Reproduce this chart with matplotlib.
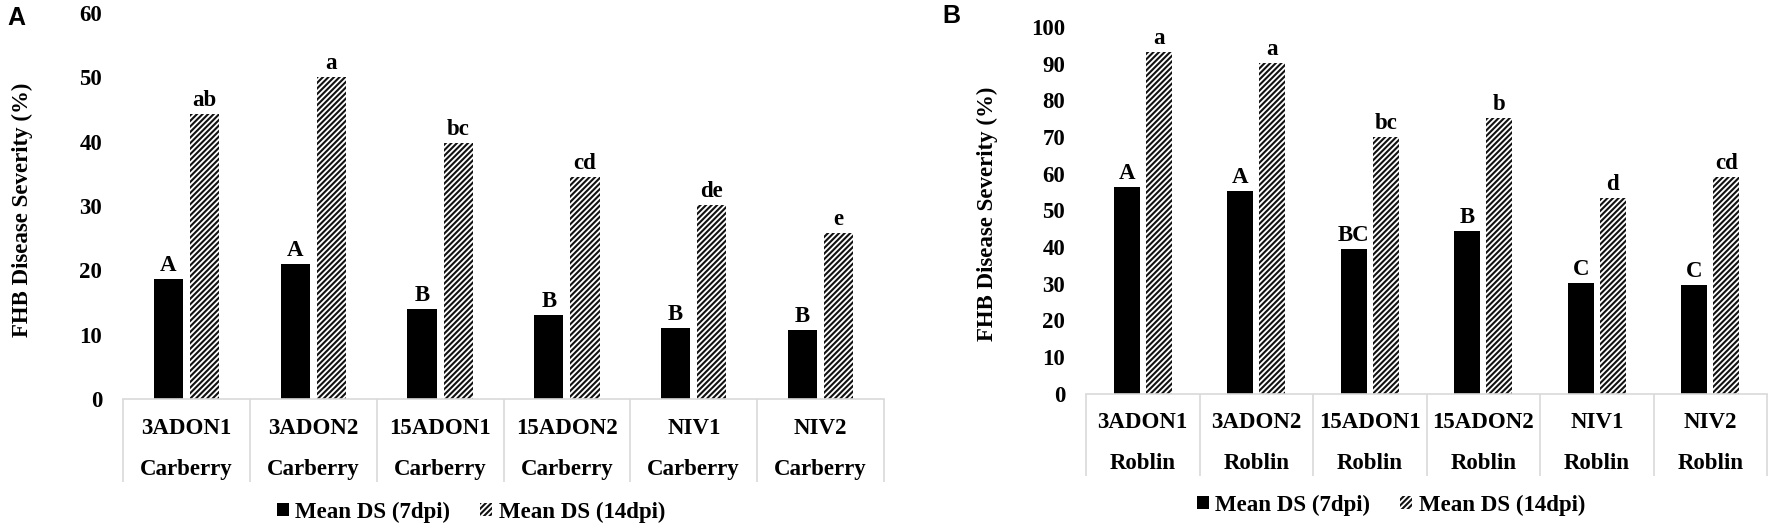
import matplotlib
matplotlib.use('Agg')
import matplotlib.pyplot as plt
import matplotlib.patches as mpatches
import numpy as np

plt.rcParams['font.family'] = 'Liberation Serif'
plt.rcParams['font.weight'] = 'bold'
plt.rcParams['hatch.linewidth'] = 1.5

# data
isolates = ['3ADON1', '3ADON2', '15ADON1', '15ADON2', 'NIV1', 'NIV2']
cultivar_a = 'Carberry'
cultivar_b = 'Roblin'

ds7_a = [18.7, 21.0, 14.0, 13.0, 11.1, 10.7]
ds14_a = [44.3, 50.1, 39.8, 34.5, 30.2, 25.8]
let7_a = ['A', 'A', 'B', 'B', 'B', 'B']
let14_a = ['ab', 'a', 'bc', 'cd', 'de', 'e']

ds7_b = [56.3, 55.3, 39.4, 44.3, 30.1, 29.5]
ds14_b = [93.2, 90.2, 70.0, 75.2, 53.3, 59.1]
let7_b = ['A', 'A', 'BC', 'B', 'C', 'C']
let14_b = ['a', 'a', 'bc', 'b', 'd', 'cd']

series_names = ['Mean DS (7dpi)', 'Mean DS (14dpi)']

W, H = 1772, 527
fig = plt.figure(figsize=(W / 100, H / 100), dpi=100)

FS = 16.5
GRID = '#d9d9d9'
HATCH = '//////'


def draw_panel(rect, ds7, ds14, let7, let14, cultivar, ymax, ystep, label_x, table_px):
    ax = fig.add_axes(rect)
    x = np.arange(len(isolates))
    w = 0.23
    off = 0.142
    ax.bar(x - off, ds7, w, color='black', linewidth=0)
    ax.bar(x + off, ds14, w, color='white', edgecolor='#111111', linewidth=0, hatch=HATCH)

    # significance letters
    for xi, v, t in zip(x, ds7, let7):
        ax.annotate(t, (xi - off, v), xytext=(0, 8), textcoords='offset pixels',
                    ha='center', va='baseline', fontsize=FS, fontweight='bold')
    for xi, v, t in zip(x, ds14, let14):
        ax.annotate(t, (xi + off, v), xytext=(0, 8), textcoords='offset pixels',
                    ha='center', va='baseline', fontsize=FS, fontweight='bold')

    ax.set_xlim(-0.5, len(isolates) - 0.5)
    ax.set_ylim(0, ymax)
    ax.set_yticks(np.arange(0, ymax + 1, ystep))
    ax.tick_params(axis='y', length=0, pad=15, labelsize=FS)
    for lab in ax.get_yticklabels():
        lab.set_fontweight('bold')
    ax.set_xticks([])

    for s in ['top', 'right', 'left']:
        ax.spines[s].set_visible(False)
    ax.spines['bottom'].set_color(GRID)
    ax.spines['bottom'].set_linewidth(1.2)

    # category table below the axis
    ax_h_px = rect[3] * H
    ax.vlines(np.arange(len(isolates) + 1) - 0.5, -table_px / ax_h_px, 0,
              transform=ax.get_xaxis_transform(), colors=GRID, linewidth=1.2,
              clip_on=False)
    for xi, name in zip(x, isolates):
        ax.annotate(name, (xi, 0), xycoords=('data', 'axes fraction'),
                    xytext=(0, -29), textcoords='offset pixels',
                    ha='center', va='center', fontsize=FS, fontweight='bold',
                    annotation_clip=False)
        ax.annotate(cultivar, (xi, 0), xycoords=('data', 'axes fraction'),
                    xytext=(0, -70), textcoords='offset pixels',
                    ha='center', va='center', fontsize=FS, fontweight='bold',
                    annotation_clip=False)

    ax.set_ylabel('FHB Disease Severity (%)', fontsize=FS, fontweight='bold')
    ax.yaxis.set_label_coords(label_x, 0.49)
    return ax


ax_a = draw_panel([123 / W, 1 - 399 / H, 761 / W, 386 / H],
                  ds7_a, ds14_a, let7_a, let14_a, cultivar_a, 60, 10, -0.118, 83)
ax_b = draw_panel([1086 / W, 1 - 393.5 / H, 681 / W, 366.5 / H],
                  ds7_b, ds14_b, let7_b, let14_b, cultivar_b, 100, 10, -0.129, 82.5)

handles = [mpatches.Patch(facecolor='black', linewidth=0),
           mpatches.Patch(facecolor='white', edgecolor='#111111', linewidth=0, hatch=HATCH)]

for cx, cy in [(471, 512), (1391, 505)]:
    fig.legend(handles, series_names, loc='center',
               bbox_to_anchor=(cx / W, 1 - cy / H), ncol=2, frameon=False,
               prop={'family': 'Liberation Serif', 'weight': 'bold', 'size': FS},
               handlelength=0.5, handleheight=0.5, handletextpad=0.3,
               columnspacing=1.3, borderpad=0, borderaxespad=0)

fig.text(7 / W, 1 - 25 / H, 'A', fontsize=18, fontweight='bold',
         family='Liberation Sans', va='baseline', ha='left')
fig.text(942 / W, 1 - 23 / H, 'B', fontsize=18, fontweight='bold',
         family='Liberation Sans', va='baseline', ha='left')

fig.savefig('out.png', dpi=100)
